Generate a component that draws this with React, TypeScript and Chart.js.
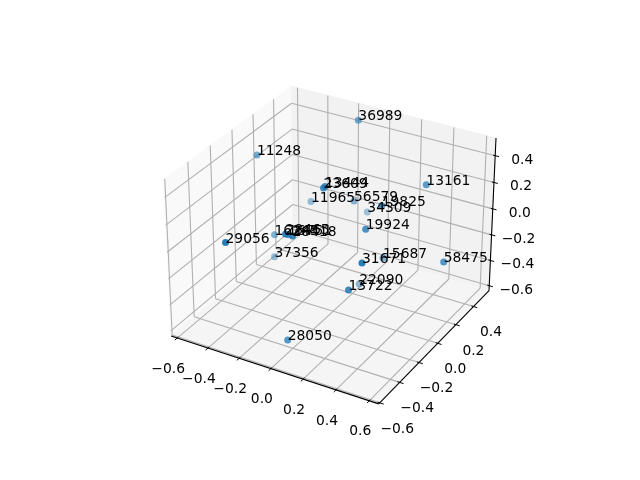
import React, { useEffect, useRef } from "react";
import { Chart, registerables } from "chart.js";

Chart.register(...registerables);

// Marks as they fall on the figure (horizontal, vertical)
const labels = ["36989","11248","13161","13444","23609","11965","56579","19825","34309","19924","15687","31671","58475","22090","13722","28050","29056","16245","28465","16751","28418","37356"];
const markX = [358.3,257,426.3,325,323.5,311,354,381.7,367.3,365.7,383,362,443.7,359.2,348.5,287.7,225.5,274.5,285.5,288,292.5,274.5];
const markY = [120.3,155,184.7,186.5,188,201.5,201,205.7,212,229.3,258,263,262,284,290,340,242.5,234.7,234,234.5,236,256.7];
const markAlpha = [0.6,0.6,0.7,0.8,0.8,0.45,0.55,0.8,0.4,0.8,0.55,0.95,0.75,0.5,0.85,0.75,0.95,0.55,0.9,0.85,0.9,0.45];

const xTicks = [-0.6,-0.4,-0.2,0,0.2,0.4,0.6];
const yTicks = [-0.6,-0.4,-0.2,0,0.2,0.4];
const zTicks = [-0.6,-0.4,-0.2,0,0.2,0.4];
const xLim = [-0.64,0.656];
const yLim = [-0.61,0.58];
const zLim = [-0.64,0.53];

const FONT = '13.89px "DejaVu Sans"';
const W = 640, H = 480;

type V3 = [number, number, number];

function norm(v: V3): V3 { const n = Math.hypot(...v); return [v[0]/n, v[1]/n, v[2]/n]; }
function cross(a: V3, b: V3): V3 { return [a[1]*b[2]-a[2]*b[1], a[2]*b[0]-a[0]*b[2], a[0]*b[1]-a[1]*b[0]]; }
function dot(a: V3, b: V3) { return a[0]*b[0]+a[1]*b[1]+a[2]*b[2]; }

// matplotlib's default 3D view (elev 30, azim -60, box 4:4:3)
const aspectRaw: V3 = [4,4,3];
const aspectScale = (1.8294640721620434 * 25/24) / Math.hypot(...aspectRaw);
const box: V3 = [aspectRaw[0]*aspectScale, aspectRaw[1]*aspectScale, aspectRaw[2]*aspectScale];
const el = 30*Math.PI/180, az = -60*Math.PI/180, dist = 10;
const R: V3 = [box[0]/2, box[1]/2, box[2]/2];
const eye: V3 = [R[0]+dist*Math.cos(el)*Math.cos(az), R[1]+dist*Math.cos(el)*Math.sin(az), R[2]+dist*Math.sin(el)];
const w = norm([eye[0]-R[0], eye[1]-R[1], eye[2]-R[2]]);
const u = norm(cross([0,0,1], w));
const v = cross(w, u);

function project(x: number, y: number, z: number): [number, number] {
  const p: V3 = [
    (x-xLim[0])/(xLim[1]-xLim[0])*box[0]-eye[0],
    (y-yLim[0])/(yLim[1]-yLim[0])*box[1]-eye[1],
    (z-zLim[0])/(zLim[1]-zLim[0])*box[2]-eye[2],
  ];
  const a = dot(u,p), b = dot(v,p), c = dot(w,p);
  const xv = a/(-c), yv = b/(-c);
  return [143.2 + 369.6*(xv+0.095)/0.185, H - (52.8 + 369.6*(yv+0.095)/0.185)];
}

const fmt = (t: number) => (t < 0 ? "\u2212" : "") + Math.abs(t).toFixed(1);

const axes3d = {
  id: "axes3d",
  beforeDatasetsDraw(chart: any) {
    const ctx = chart.ctx as CanvasRenderingContext2D;
    const [x0,x1] = xLim, [y0,y1] = yLim, [z0,z1] = zLim;
    const poly = (pts: V3[], fill: string) => {
      ctx.beginPath();
      pts.forEach((p,i) => { const q = project(...p); i ? ctx.lineTo(q[0],q[1]) : ctx.moveTo(q[0],q[1]); });
      ctx.closePath(); ctx.fillStyle = fill; ctx.fill();
      ctx.strokeStyle = fill; ctx.lineWidth = 1; ctx.stroke();
    };
    const line = (a: V3, b: V3, col: string, lw: number) => {
      const p = project(...a), q = project(...b);
      ctx.beginPath(); ctx.moveTo(p[0],p[1]); ctx.lineTo(q[0],q[1]);
      ctx.strokeStyle = col; ctx.lineWidth = lw; ctx.stroke();
    };
    ctx.save();
    ctx.lineCap = "butt";
    // panes
    poly([[x0,y1,z0],[x0,y1,z1],[x0,y0,z1],[x0,y0,z0]], "#f9f9f9"); // left wall
    poly([[x0,y1,z0],[x1,y1,z0],[x1,y1,z1],[x0,y1,z1]], "#f2f2f2"); // back wall
    poly([[x0,y0,z0],[x1,y0,z0],[x1,y1,z0],[x0,y1,z0]], "#f5f5f5"); // floor
    // grid
    const g = "#b0b0b0", glw = 1.1;
    xTicks.forEach(t => { line([t,y0,z0],[t,y1,z0],g,glw); line([t,y1,z0],[t,y1,z1],g,glw); });
    yTicks.forEach(t => { line([x1,t,z0],[x0,t,z0],g,glw); line([x0,t,z0],[x0,t,z1],g,glw); });
    zTicks.forEach(t => { line([x0,y0,t],[x0,y1,t],g,glw); line([x0,y1,t],[x1,y1,t],g,glw); });
    // axis lines
    line([x0,y0,z0],[x1,y0,z0],"#000",1.1);
    line([x1,y0,z0],[x1,y1,z0],"#000",1.1);
    line([x1,y1,z0],[x1,y1,z1],"#000",1.1);
    // ticks
    const dx = (x1-x0), dy = (y1-y0);
    xTicks.forEach(t => line([t,y0+0.01*dy,z0],[t,y0-0.018*dy,z0],"#000",1));
    yTicks.forEach(t => line([x1-0.01*dx,t,z0],[x1+0.018*dx,t,z0],"#000",1));
    zTicks.forEach(t => line([x1-0.01*dx,y1,t],[x1+0.018*dx,y1,t],"#000",1));
    // tick labels, set off from each tick's foot
    ctx.fillStyle = "#000"; ctx.font = FONT; ctx.textAlign = "center"; ctx.textBaseline = "middle";
    xTicks.forEach(t => { const p = project(t,y0,z0); ctx.fillText(fmt(t),p[0]-9,p[1]+31); });
    yTicks.forEach(t => { const p = project(x1,t,z0); ctx.fillText(fmt(t),p[0]+17.5,p[1]+26.3); });
    zTicks.forEach(t => { const p = project(x1,y1,t); ctx.fillText(fmt(t),p[0]+27,p[1]+4.3); });
    ctx.restore();
  },
};

const markText = {
  id: "markText",
  afterDatasetsDraw(chart: any) {
    const ctx = chart.ctx as CanvasRenderingContext2D;
    const sx = chart.scales.x, sy = chart.scales.y;
    ctx.save();
    ctx.fillStyle = "#000"; ctx.font = FONT; ctx.textAlign = "left"; ctx.textBaseline = "alphabetic";
    labels.forEach((t,i) => ctx.fillText(t, sx.getPixelForValue(markX[i]), sy.getPixelForValue(markY[i])));
    ctx.restore();
  },
};

export default function App() {
  const ref = useRef<HTMLCanvasElement>(null);
  useEffect(() => {
    document.body.style.margin = "0";
    const colors = markAlpha.map(a => `rgba(31,119,180,${a})`);
    const chart = new Chart(ref.current!, {
      type: "scatter",
      data: {
        labels,
        datasets: [{
          data: markX.map((x,i) => ({ x, y: markY[i] })),
          pointRadius: 3.5,
          pointBorderWidth: 0,
          backgroundColor: colors,
          borderColor: colors,
        }],
      },
      options: {
        animation: false,
        responsive: false,
        layout: { padding: 0, autoPadding: false },
        plugins: { legend: { display: false }, tooltip: { enabled: false } },
        scales: {
          x: { type: "linear", min: 0, max: W, display: false },
          y: { type: "linear", min: 0, max: H, reverse: true, display: false },
        },
      },
      plugins: [axes3d, markText],
    });
    return () => chart.destroy();
  }, []);
  return <canvas ref={ref} width={W} height={H} style={{ display: "block" }} />;
}
